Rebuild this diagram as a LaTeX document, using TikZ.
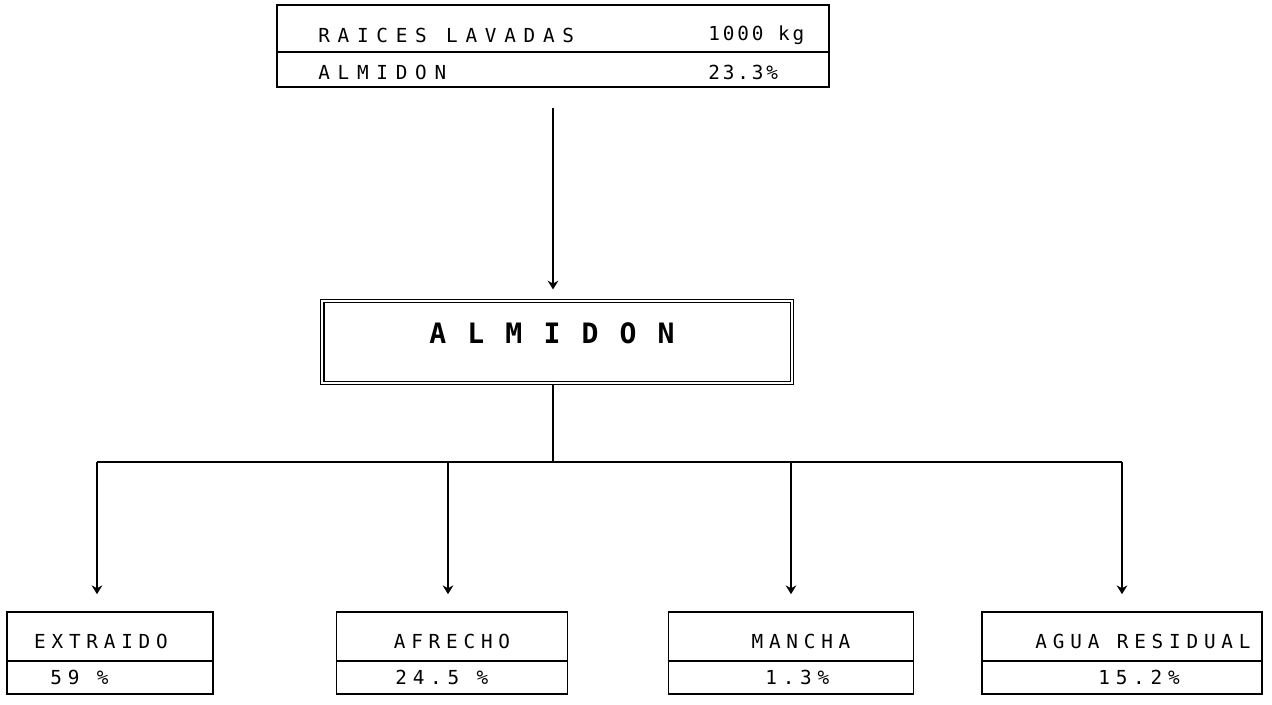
\documentclass[tikz,border=0pt]{standalone}
\usepackage{fontspec}
\newfontfamily\plotfont[LetterSpace=30]{DejaVu Sans Mono}
\newfontfamily\headfont[LetterSpace=40]{DejaVu Sans Mono}
\newfontfamily\valfont[LetterSpace=15]{DejaVu Sans Mono}
\newfontfamily\titlefont[LetterSpace=15]{DejaVu Sans Mono}
\usetikzlibrary{arrows.meta}
\begin{document}
\begin{tikzpicture}[x=0.02cm,y=-0.02cm,
  every node/.style={inner sep=0pt},
  flowbox/.style={draw,line width=0.9pt,minimum height=1.64cm},
  plottext/.style={font=\plotfont\fontsize{11}{13}\selectfont},
  headtext/.style={font=\headfont\fontsize{11}{13}\selectfont},
  valtext/.style={font=\valfont\fontsize{11}{13}\selectfont},
  flow/.style={line width=0.9pt,-{Stealth[length=5pt,width=6pt]}}]
\useasboundingbox (0,0) rectangle (1272,705);

\node[flowbox,minimum width=11.04cm] (raices) at (553,46) {};
\coordinate (rdiv) at (0,52);
\draw[line width=0.9pt] (raices.west |- rdiv) -- (raices.east |- rdiv);
\node[headtext,anchor=west] (raicestxt) at (318,35) {RAICES LAVADAS};
\node[valtext,anchor=west] (raiceskg) at (708,35) {1000 kg};
\node[headtext,anchor=west] (almtxt) at (318,72) {ALMIDON};
\node[valtext,anchor=west] (almval) at (708,72) {23.3\%};

\node[flowbox,double,double distance=1.6pt,line width=0.6pt,minimum width=9.4cm,minimum height=1.64cm] (almidon) at (557,342) {};
\node[font=\titlefont\bfseries\fontsize{16}{18}\selectfont] (almidontxt) at (552,333) {A L M I D O N};

\draw[flow,shorten <=0.4cm,shorten >=0.22cm] (raices.south) -- (raices.south |- almidon.north);

\coordinate (d1) at (97,462);
\coordinate (d2) at (448,462);
\coordinate (d3) at (791,462);
\coordinate (d4) at (1122,462);
\draw[line width=0.9pt] (almidon.south -| raices.south) -- (d1 -| raices.south);
\draw[line width=0.9pt] (d1) -- (d4);

\node[flowbox,minimum width=4.12cm] (extraido) at (110,653) {};
\node[flowbox,minimum width=4.62cm] (afrecho) at (452,653) {};
\node[flowbox,minimum width=4.9cm] (mancha) at (791,653) {};
\node[flowbox,minimum width=5.6cm] (agua) at (1122,653) {};

\coordinate (bdiv) at (0,661);
\foreach \b in {extraido,afrecho,mancha,agua}
  \draw[line width=0.9pt] (\b.west |- bdiv) -- (\b.east |- bdiv);

\draw[flow,shorten >=0.34cm] (d1) -- (d1 |- extraido.north);
\draw[flow,shorten >=0.34cm] (d2) -- (d2 |- afrecho.north);
\draw[flow,shorten >=0.34cm] (d3) -- (d3 |- mancha.north);
\draw[flow,shorten >=0.34cm] (d4) -- (d4 |- agua.north);

\node[plottext] (extraidotxt) at (101,641) {EXTRAIDO};
\node[plottext,anchor=west] (extraidoval) at (50,677) {59 \%};
\node[plottext] (afrechotxt) at (452,641) {AFRECHO};
\node[plottext,anchor=west] (afrechoval) at (395,677) {24.5 \%};
\node[plottext] (manchatxt) at (801,641) {MANCHA};
\node[plottext,anchor=west] (manchaval) at (765,677) {1.3\%};
\node[plottext] (aguatxt) at (1143,641) {AGUA RESIDUAL};
\node[plottext,anchor=west] (aguaval) at (1098,677) {15.2\%};
\end{tikzpicture}
\end{document}
